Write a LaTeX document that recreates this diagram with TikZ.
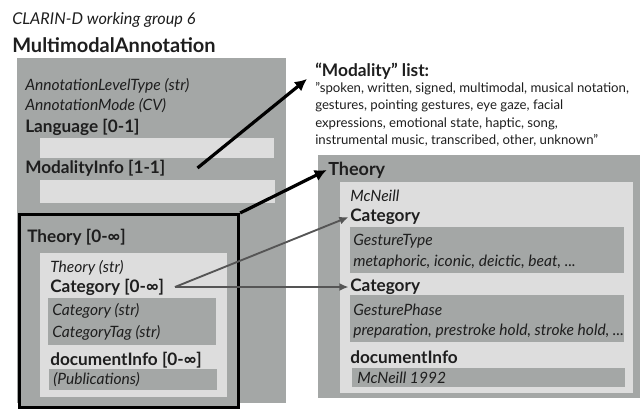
\documentclass[tikz,border=0pt]{standalone}
\usepackage{fontspec}
\setmainfont{Lato}
\usetikzlibrary{arrows.meta}
\definecolor{outergray}{RGB}{164,167,166}
\definecolor{panellight}{RGB}{221,221,221}
\definecolor{ink}{RGB}{30,30,30}
\definecolor{linkgray}{RGB}{85,85,85}

\begin{document}
\begin{tikzpicture}[x=0.75pt, y=-0.75pt,
    txt/.style={anchor=west, inner sep=0pt, text=ink, font=\fontsize{11}{13}\selectfont},
    itxt/.style={txt, font=\fontsize{11.7}{13}\selectfont\itshape},
    btxt/.style={txt, font=\fontsize{12.9}{15}\selectfont\bfseries},
    bigarrow/.style={line width=2.4pt, -{Latex[length=9pt,width=9pt]}},
    smallarrow/.style={line width=1.4pt, linkgray, -{Latex[length=7pt,width=6pt]}}]

    \useasboundingbox (0,0) rectangle (643,408);

    % title
    \node[itxt, font=\fontsize{12.2}{14}\selectfont\itshape] (group) at (12,20) {CLARIN-D working group 6};
    \node[btxt, font=\fontsize{15}{18}\selectfont\bfseries] (title) at (12,45) {MultimodalAnnotation};

    % left box
    \fill[outergray] (17,58) rectangle (286,403);
    \fill[panellight] (40,138) rectangle (274,158);
    \fill[panellight] (40,180) rectangle (275,203);
    \node[itxt] (levtype) at (25,86) {AnnotationLevelType (str)};
    \node[itxt] (mode) at (25,106) {AnnotationMode (CV)};
    \node[btxt] (lang) at (25,127) {Language [0-1]};
    \node[btxt] (modinfo) at (25,168) {ModalityInfo [1-1]};

    % theory element
    \node[draw=black, line width=2.6pt, fill=outergray, anchor=north west, inner sep=0pt,
          minimum width=164pt, minimum height=145pt] (thbox) at (18,213) {};
    \fill[panellight] (40,253) rectangle (227,397);
    \fill[outergray] (48,298) rectangle (216,345);
    \fill[outergray] (49,369) rectangle (217,390);
    \node[btxt] (theory) at (27,237) {Theory [0-∞]};
    \node[itxt] (thstr) at (50,268) {Theory (str)};
    \node[btxt] (cat) at (50,287) {Category [0-∞]};
    \node[itxt] (catstr) at (52,311) {Category (str)};
    \node[itxt] (cattag) at (52,333) {CategoryTag (str)};
    \node[btxt] (docinfo) at (50,360) {documentInfo [0-∞]};
    \node[itxt] (pubs) at (53,380) {(Publications)};

    % modality list
    \node[btxt, font=\fontsize{13}{15}\selectfont\bfseries] (modlist) at (315,71) {“Modality” list:};
    \node[txt, font=\fontsize{9.9}{13.1}\selectfont, align=left, anchor=north west] (modvals) at (315,82)
        {''spoken, written, signed, multimodal, musical notation,\\
         gestures, pointing gestures, eye gaze, facial\\
         expressions, emotional state, haptic, song,\\
         instrumental music, transcribed, other, unknown''};

    % example instance
    \fill[outergray] (318,155) rectangle (640,398);
    \fill[panellight] (340,182) rectangle (633,393);
    \fill[outergray] (350,227) rectangle (624,273);
    \fill[outergray] (350,295) rectangle (624,342);
    \fill[outergray] (352,368) rectangle (625,387);
    \node[btxt, font=\fontsize{13.5}{16}\selectfont\bfseries] (rtheory) at (328,170) {Theory};
    \node[itxt] (mcneill) at (350,196) {McNeill};
    \node[btxt] (rcat1) at (350,217) {Category};
    \node[itxt] (gtype) at (353,241) {GestureType};
    \node[itxt] (gtypevals) at (353,262) {metaphoric, iconic, deictic, beat, ...};
    \node[btxt] (rcat2) at (350,287) {Category};
    \node[itxt] (gphase) at (353,310) {GesturePhase};
    \node[itxt] (gphasevals) at (353,331) {preparation, prestroke hold, stroke hold, ...};
    \node[btxt] (rdoc) at (350,357) {documentInfo};
    \node[itxt] (year) at (357,378) {McNeill 1992};

    % links
    \draw[bigarrow] ([xshift=24pt]modinfo.east) -- ([xshift=-6pt,yshift=-6pt]modlist.west);
    \draw[bigarrow] (thbox.north east) -- ([xshift=-1pt]rtheory.west);
    \draw[smallarrow] ([xshift=8pt]cat.east) -- ([xshift=-1pt]rcat1.west);
    \draw[smallarrow] ([xshift=8pt]cat.east) -- ([xshift=-1pt]rcat2.west);
\end{tikzpicture}
\end{document}
